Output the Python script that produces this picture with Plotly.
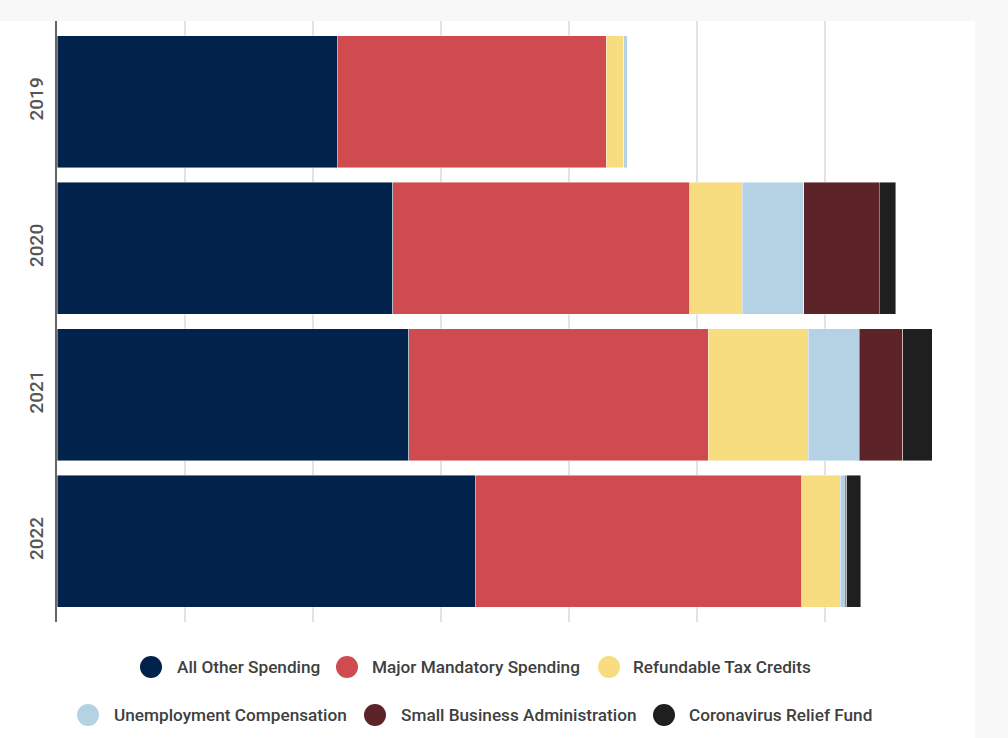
import plotly.graph_objects as go

years = ["2019", "2020", "2021", "2022"]
series_names = ["All Other Spending", "Major Mandatory Spending", "Refundable Tax Credits",
                "Unemployment Compensation", "Small Business Administration", "Coronavirus Relief Fund"]
all_other = [2.19, 2.625, 2.75, 3.27]
major_mandatory = [2.10, 2.32, 2.34, 2.55]
refundable_tax = [0.14, 0.41, 0.78, 0.30]
unemployment = [0.03, 0.48, 0.40, 0.04]
small_business = [0.0, 0.59, 0.34, 0.01]
coronavirus_relief = [0.0, 0.13, 0.23, 0.11]
colors = ["#01224a", "#d04b4f", "#f7dc80", "#b5d1e4", "#5c2328", "#1f1f1f"]

values = [all_other, major_mandatory, refundable_tax, unemployment, small_business, coronavirus_relief]

fig = go.Figure()
for name, vals, col in zip(series_names, values, colors):
    fig.add_trace(go.Bar(y=years, x=vals, name=name, orientation="h",
                         marker=dict(color=col, line=dict(color="rgba(255,255,255,0.55)", width=0.8)),
                         showlegend=False))

# pixel helpers for plot area (l=57, r=940, t=21, b=622)
L, R, T, B = 57, 940, 21, 622
def px(x):
    return (x - L) / (R - L)
def py(y):
    return (B - y) / (B - T)

shapes = [
    dict(type="rect", xref="paper", yref="paper", x0=px(0), x1=px(1008), y0=py(21), y1=py(0),
         fillcolor="#f8f8f8", line=dict(width=0), layer="below"),
    dict(type="rect", xref="paper", yref="paper", x0=px(975), x1=px(1008), y0=py(738), y1=py(21),
         fillcolor="#f8f8f8", line=dict(width=0), layer="below"),
]
annotations = []
legend_pos = [(151, 667, 175), (347, 667, 370), (609, 667, 631),
              (88, 715, 112), (375, 715, 399), (664, 715, 687)]
for (cx, cy, tx), name, col in zip(legend_pos, series_names, colors):
    shapes.append(dict(type="circle", xref="paper", yref="paper",
                       x0=px(cx - 11), x1=px(cx + 11), y0=py(cy + 11), y1=py(cy - 11),
                       fillcolor=col, line=dict(width=0)))
    annotations.append(dict(text=name, xref="paper", yref="paper", x=px(tx), y=py(cy),
                            xanchor="left", yanchor="middle", showarrow=False,
                            font=dict(family="Roboto", size=17.2, color="#404040", weight=500)))

fig.update_layout(
    barmode="stack",
    bargap=0.102,
    width=1008, height=738,
    margin=dict(l=L, r=1008 - R, t=T, b=738 - B, pad=0),
    paper_bgcolor="white", plot_bgcolor="white",
    font=dict(family="Roboto", color="#555"),
    xaxis=dict(range=[0, 6.9], dtick=1, tick0=0, showticklabels=False, showgrid=True,
               gridcolor="#e3e3e3", gridwidth=1.5, zeroline=False, showline=False, ticks=""),
    yaxis=dict(categoryorder="array", categoryarray=years[::-1], range=[-0.551, 3.551],
               tickangle=-90, tickfont=dict(family="Roboto", size=19, color="#555", weight=500),
               showline=True, linecolor="#666", linewidth=2, ticks="outside", ticklen=4,
               tickcolor="rgba(0,0,0,0)", showgrid=False, zeroline=False),
    shapes=shapes, annotations=annotations,
)

fig.write_html("out.html", config={"displayModeBar": False},
               post_script="document.body.style.margin='0';")
